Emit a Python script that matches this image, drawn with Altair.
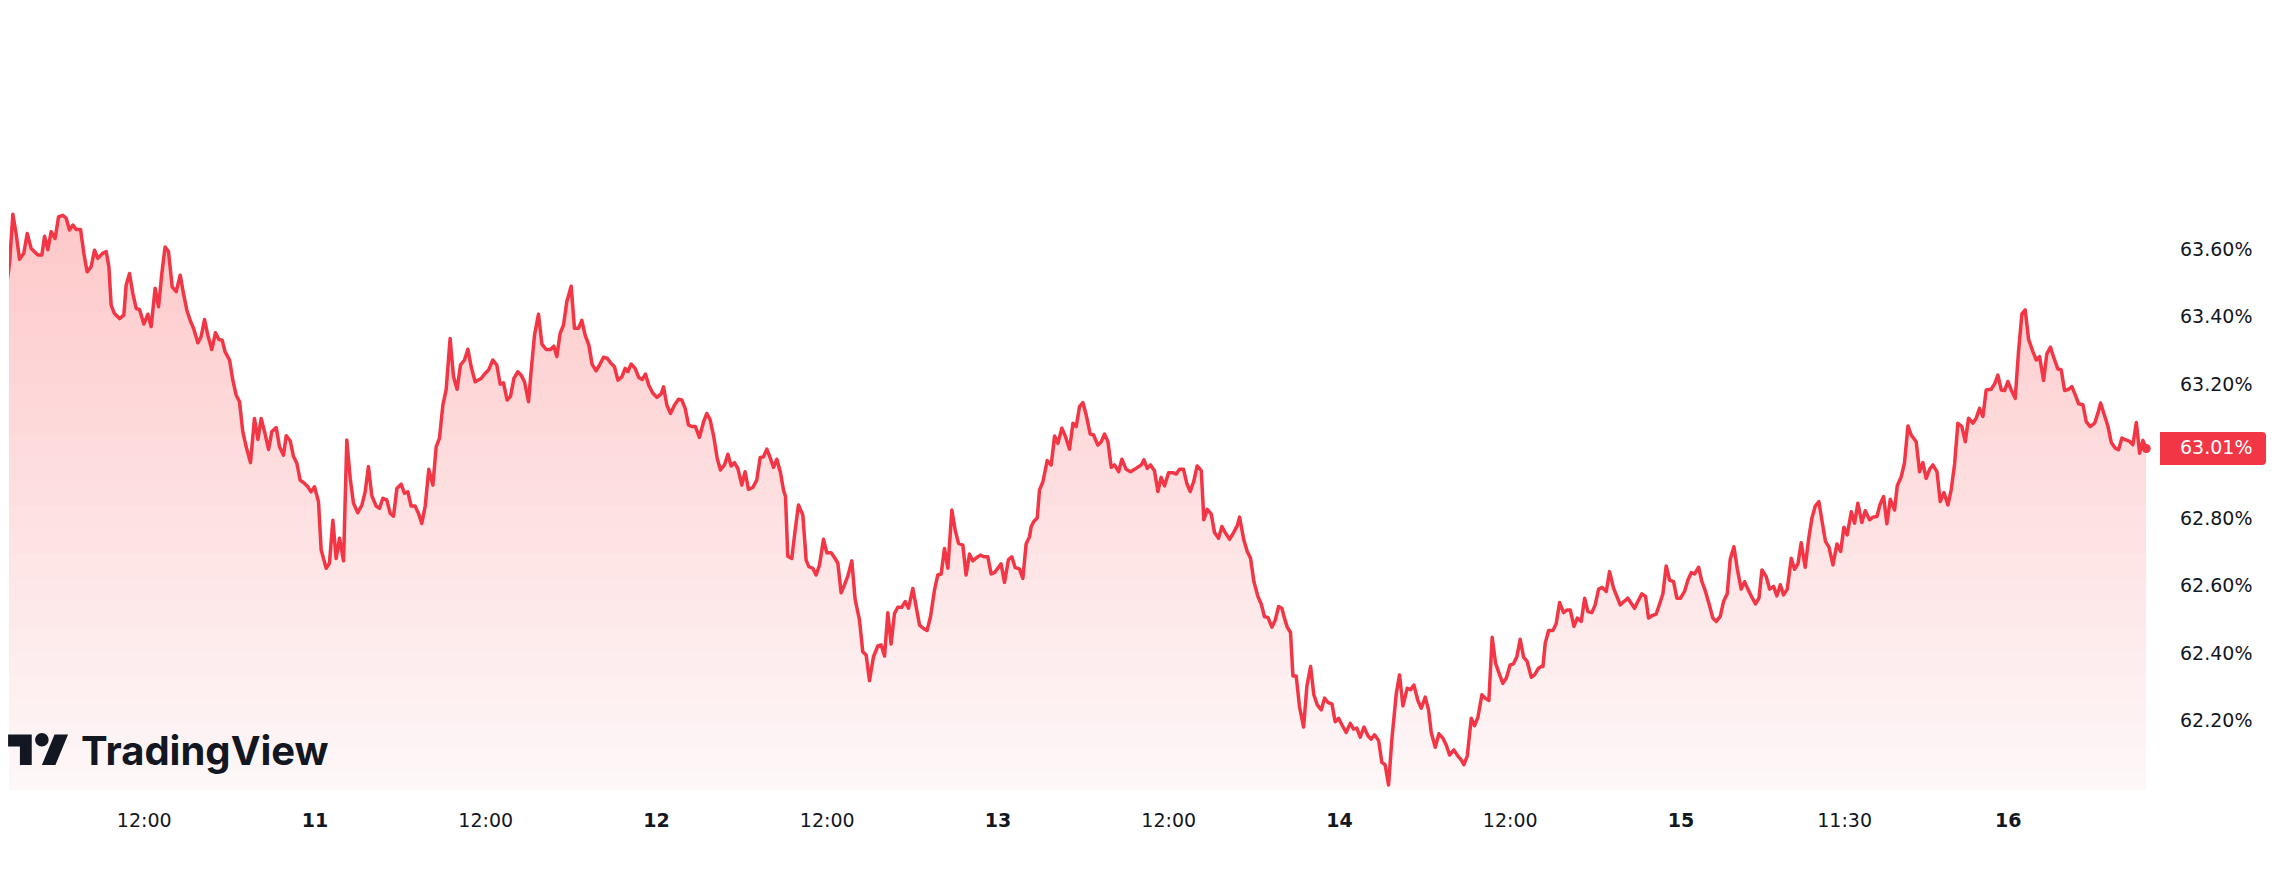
import altair as alt
import numpy as np
import pandas as pd

# ---- data: (hours since day 10 00:00, value in %) ----
seg_day10 = [
    (2.23, 63.466), (2.54, 63.560), (2.77, 63.706), (3.00, 63.649), (3.24, 63.572), (3.54, 63.590),
    (3.78, 63.649), (4.06, 63.604), (4.53, 63.585), (4.81, 63.585), (5.00, 63.641), (5.23, 63.601),
    (5.46, 63.654), (5.74, 63.634), (5.98, 63.698), (6.28, 63.703), (6.52, 63.694), (6.75, 63.659),
    (6.99, 63.674), (7.22, 63.661), (7.53, 63.661), (7.76, 63.590), (7.99, 63.535), (8.27, 63.550),
    (8.51, 63.599), (8.74, 63.575), (9.09, 63.590), (9.33, 63.595), (9.52, 63.550), (9.68, 63.436),
    (9.91, 63.411), (10.27, 63.396), (10.57, 63.406), (10.73, 63.495), (10.97, 63.530), (11.20, 63.471),
    (11.44, 63.426), (11.67, 63.423), (11.98, 63.380), (12.26, 63.409), (12.49, 63.372), (12.77, 63.486),
    (13.01, 63.431), (13.24, 63.530), (13.47, 63.609), (13.71, 63.595), (13.97, 63.490), (14.25, 63.476),
    (14.53, 63.525), (14.76, 63.471), (15.00, 63.421), (15.23, 63.391), (15.47, 63.367), (15.77, 63.324),
    (16.00, 63.342), (16.24, 63.393), (16.47, 63.347), (16.75, 63.304), (17.01, 63.354), (17.25, 63.334),
    (17.48, 63.332), (17.69, 63.297), (18.00, 63.273), (18.23, 63.213), (18.46, 63.169), (18.70, 63.149),
    (18.93, 63.060), (19.17, 63.015), (19.47, 62.968), (19.75, 63.099), (19.99, 63.037), (20.22, 63.099),
    (20.46, 63.060), (20.74, 63.007), (20.97, 63.060), (21.28, 63.072), (21.51, 63.015), (21.79, 62.990),
    (21.98, 63.048), (22.26, 63.033), (22.49, 62.987), (22.73, 62.966), (22.96, 62.916), (23.27, 62.906),
    (23.50, 62.896), (23.73, 62.881), (23.97, 62.896),
]
seg_day11 = [
    (24.25, 62.852), (24.44, 62.708), (24.79, 62.654), (25.02, 62.669), (25.26, 62.797), (25.49, 62.683),
    (25.73, 62.743), (26.01, 62.676), (26.24, 63.035), (26.48, 62.921), (26.71, 62.847), (27.01, 62.819),
    (27.30, 62.842), (27.53, 62.881), (27.76, 62.956), (28.00, 62.869), (28.30, 62.839), (28.54, 62.832),
    (28.77, 62.862), (29.05, 62.857), (29.29, 62.817), (29.52, 62.809), (29.76, 62.891), (30.06, 62.904),
    (30.29, 62.877), (30.53, 62.881), (30.76, 62.839), (31.04, 62.839), (31.28, 62.817), (31.51, 62.787),
    (31.75, 62.839), (32.00, 62.948), (32.29, 62.901), (32.52, 63.015), (32.75, 63.040), (32.99, 63.139),
    (33.22, 63.184), (33.50, 63.337), (33.74, 63.223), (33.99, 63.186), (34.23, 63.258), (34.51, 63.273),
    (34.75, 63.305), (34.98, 63.253), (35.26, 63.208), (35.68, 63.218), (35.96, 63.233), (36.20, 63.243),
    (36.50, 63.273), (36.78, 63.258), (37.02, 63.201), (37.25, 63.205), (37.51, 63.154), (37.74, 63.164),
    (37.98, 63.218), (38.26, 63.238), (38.49, 63.228), (38.73, 63.208), (39.01, 63.149), (39.20, 63.243),
    (39.43, 63.347), (39.71, 63.409), (39.95, 63.320), (40.25, 63.304), (40.55, 63.304), (40.79, 63.314),
    (41.00, 63.283), (41.23, 63.352), (41.47, 63.377), (41.70, 63.446), (42.01, 63.492), (42.24, 63.367),
    (42.52, 63.367), (42.76, 63.391), (42.99, 63.347), (43.25, 63.317), (43.48, 63.260), (43.76, 63.241),
    (44.00, 63.258), (44.28, 63.281), (44.54, 63.278), (44.77, 63.265), (45.05, 63.253), (45.29, 63.213),
    (45.57, 63.223), (45.80, 63.248), (45.99, 63.238), (46.22, 63.261), (46.50, 63.248), (46.76, 63.221),
    (47.00, 63.215), (47.23, 63.231), (47.46, 63.198), (47.75, 63.174),
]
seg_day12 = [
    (48.03, 63.162), (48.33, 63.172), (48.50, 63.193), (48.73, 63.139), (48.99, 63.114), (49.27, 63.139),
    (49.55, 63.156), (49.78, 63.154), (50.02, 63.129), (50.25, 63.080), (50.51, 63.075), (50.74, 63.075),
    (51.02, 63.043), (51.31, 63.089), (51.54, 63.114), (51.77, 63.096), (52.03, 63.045), (52.27, 62.980),
    (52.50, 62.946), (52.78, 62.961), (53.02, 62.993), (53.25, 62.958), (53.48, 62.968), (53.72, 62.951),
    (54.00, 62.901), (54.23, 62.941), (54.47, 62.888), (54.77, 62.894), (55.05, 62.916), (55.29, 62.983),
    (55.52, 62.985), (55.76, 63.008), (55.99, 62.983), (56.23, 62.954), (56.46, 62.978), (56.72, 62.938),
    (56.93, 62.886), (57.07, 62.867), (57.23, 62.690), (57.51, 62.683), (57.75, 62.768), (57.98, 62.842),
    (58.29, 62.812), (58.52, 62.678), (58.71, 62.659), (58.99, 62.654), (59.22, 62.634), (59.46, 62.664),
    (59.74, 62.740), (59.97, 62.700), (60.28, 62.700), (60.51, 62.686), (60.75, 62.669), (60.98, 62.581),
    (61.21, 62.604), (61.45, 62.631), (61.73, 62.676), (61.96, 62.562), (62.27, 62.500), (62.50, 62.406),
    (62.74, 62.396), (62.97, 62.320), (63.25, 62.391), (63.56, 62.423), (63.79, 62.426), (64.03, 62.393),
    (64.26, 62.522), (64.49, 62.429), (64.73, 62.520), (64.96, 62.538), (65.24, 62.538), (65.48, 62.555),
    (65.71, 62.535), (66.02, 62.594), (66.25, 62.540), (66.49, 62.485), (66.77, 62.475), (67.02, 62.469),
    (67.26, 62.510), (67.54, 62.589), (67.77, 62.634), (68.01, 62.637), (68.24, 62.713), (68.48, 62.654),
    (68.76, 62.827), (68.99, 62.768), (69.23, 62.728), (69.53, 62.723), (69.76, 62.634), (70.00, 62.696),
    (70.23, 62.676), (70.51, 62.686), (70.77, 62.693), (71.05, 62.688), (71.29, 62.688), (71.52, 62.637),
    (71.76, 62.641), (71.99, 62.654),
]
seg_day13 = [
    (72.22, 62.667), (72.46, 62.612), (72.74, 62.680), (72.97, 62.688), (73.21, 62.656), (73.51, 62.652),
    (73.75, 62.624), (73.98, 62.726), (74.22, 62.748), (74.33, 62.777), (74.52, 62.793), (74.76, 62.803),
    (74.92, 62.887), (75.16, 62.911), (75.46, 62.974), (75.74, 62.961), (75.98, 63.047), (76.21, 63.025),
    (76.49, 63.070), (76.73, 63.047), (77.03, 63.008), (77.27, 63.085), (77.50, 63.075), (77.73, 63.134),
    (77.97, 63.146), (78.20, 63.110), (78.48, 63.053), (78.72, 63.050), (79.02, 63.020), (79.26, 63.030),
    (79.49, 63.053), (79.73, 63.030), (79.96, 62.954), (80.19, 62.961), (80.48, 62.941), (80.71, 62.978),
    (81.01, 62.948), (81.32, 62.941), (81.60, 62.948), (81.88, 62.956), (82.07, 62.961), (82.26, 62.976),
    (82.49, 62.951), (82.72, 62.961), (83.00, 62.944), (83.24, 62.882), (83.47, 62.924), (83.71, 62.899),
    (83.99, 62.938), (84.29, 62.938), (84.53, 62.934), (84.76, 62.948), (85.04, 62.948), (85.28, 62.905),
    (85.51, 62.882), (85.75, 62.911), (86.00, 62.958), (86.29, 62.944), (86.47, 62.798), (86.71, 62.829),
    (86.99, 62.815), (87.22, 62.760), (87.50, 62.743), (87.74, 62.778), (87.97, 62.760), (88.28, 62.740),
    (88.56, 62.760), (88.81, 62.780), (88.98, 62.806), (89.28, 62.738), (89.52, 62.704), (89.75, 62.684),
    (89.99, 62.614), (90.27, 62.570), (90.50, 62.548), (90.73, 62.510), (90.97, 62.508), (91.25, 62.479),
    (91.49, 62.500), (91.72, 62.540), (91.95, 62.535), (92.14, 62.505), (92.33, 62.479), (92.56, 62.463),
    (92.73, 62.334), (92.96, 62.334), (93.19, 62.243), (93.48, 62.182), (93.71, 62.304), (93.97, 62.362),
    (94.20, 62.278), (94.44, 62.248), (94.72, 62.233), (94.95, 62.268), (95.19, 62.255), (95.47, 62.251),
    (95.70, 62.198), (95.94, 62.208),
]
seg_day14 = [
    (96.17, 62.189), (96.47, 62.166), (96.76, 62.193), (96.99, 62.176), (97.22, 62.179), (97.46, 62.152),
    (97.72, 62.182), (98.00, 62.156), (98.23, 62.146), (98.46, 62.159), (98.75, 62.142), (98.98, 62.077),
    (99.21, 62.070), (99.45, 62.010), (99.68, 62.144), (99.99, 62.281), (100.22, 62.337), (100.46, 62.245),
    (100.76, 62.297), (101.00, 62.293), (101.23, 62.307), (101.51, 62.261), (101.75, 62.238), (102.03, 62.271),
    (102.26, 62.233), (102.45, 62.166), (102.73, 62.122), (102.99, 62.162), (103.27, 62.149), (103.50, 62.129),
    (103.74, 62.099), (104.04, 62.114), (104.32, 62.096), (104.55, 62.085), (104.74, 62.070), (104.98, 62.096),
    (105.26, 62.208), (105.49, 62.186), (105.73, 62.211), (106.01, 62.278), (106.24, 62.268), (106.50, 62.261),
    (106.73, 62.449), (106.97, 62.372), (107.20, 62.344), (107.48, 62.312), (107.72, 62.327), (108.00, 62.367),
    (108.23, 62.370), (108.47, 62.392), (108.70, 62.443), (108.94, 62.390), (109.19, 62.377), (109.48, 62.330),
    (109.71, 62.337), (109.99, 62.357), (110.18, 62.362), (110.30, 62.362), (110.46, 62.431), (110.70, 62.469),
    (111.00, 62.469), (111.23, 62.489), (111.47, 62.552), (111.75, 62.522), (111.98, 62.530), (112.22, 62.530),
    (112.48, 62.481), (112.71, 62.506), (112.99, 62.496), (113.23, 62.565), (113.46, 62.525), (113.74, 62.522),
    (113.97, 62.545), (114.21, 62.592), (114.47, 62.597), (114.75, 62.585), (114.98, 62.644), (115.26, 62.595),
    (115.50, 62.570), (115.73, 62.545), (115.99, 62.555), (116.27, 62.565), (116.50, 62.550), (116.74, 62.535),
    (116.97, 62.555), (117.25, 62.578), (117.51, 62.570), (117.72, 62.506), (117.96, 62.513), (118.26, 62.518),
    (118.50, 62.548), (118.73, 62.578), (118.96, 62.661), (119.20, 62.619), (119.48, 62.614), (119.71, 62.565),
    (119.97, 62.565),
]
seg_day15 = [
    (120.25, 62.585), (120.49, 62.619), (120.72, 62.641), (120.96, 62.637), (121.24, 62.657), (121.47, 62.614),
    (121.70, 62.588), (121.96, 62.550), (122.24, 62.506), (122.48, 62.496), (122.76, 62.511), (122.99, 62.555),
    (123.25, 62.578), (123.46, 62.681), (123.72, 62.718), (123.95, 62.654), (124.23, 62.592), (124.47, 62.614),
    (124.70, 62.592), (124.98, 62.568), (125.24, 62.548), (125.48, 62.565), (125.69, 62.649), (125.99, 62.629),
    (126.23, 62.592), (126.51, 62.600), (126.74, 62.572), (126.98, 62.605), (127.21, 62.575), (127.47, 62.592),
    (127.75, 62.684), (127.98, 62.651), (128.22, 62.667), (128.45, 62.730), (128.73, 62.657), (128.97, 62.740),
    (129.20, 62.803), (129.44, 62.839), (129.69, 62.852), (129.93, 62.790), (130.16, 62.733), (130.40, 62.717),
    (130.68, 62.664), (130.96, 62.726), (131.22, 62.704), (131.45, 62.776), (131.68, 62.753), (131.97, 62.822),
    (132.20, 62.788), (132.43, 62.847), (132.71, 62.790), (132.95, 62.825), (133.25, 62.798), (133.49, 62.806),
    (133.77, 62.808), (134.00, 62.845), (134.24, 62.867), (134.47, 62.786), (134.71, 62.859), (135.01, 62.827),
    (135.20, 62.899), (135.48, 62.926), (135.71, 62.968), (135.95, 63.077), (136.18, 63.050), (136.53, 63.030),
    (136.77, 62.941), (137.00, 62.968), (137.23, 62.921), (137.47, 62.948), (137.70, 62.961), (137.99, 62.941),
    (138.22, 62.852), (138.48, 62.879), (138.76, 62.842), (138.99, 62.887), (139.23, 62.964), (139.46, 63.085),
    (139.74, 63.075), (139.98, 63.030), (140.21, 63.100), (140.51, 63.085), (140.75, 63.100), (140.98, 63.129),
    (141.22, 63.105), (141.45, 63.184), (141.80, 63.186), (142.04, 63.202), (142.27, 63.228), (142.51, 63.184),
    (142.74, 63.182),
]
seg_day16 = [
    (142.97, 63.209), (143.21, 63.184), (143.49, 63.159), (143.72, 63.298), (143.96, 63.410), (144.19, 63.422),
    (144.43, 63.334), (144.73, 63.298), (144.97, 63.273), (145.20, 63.283), (145.48, 63.212), (145.71, 63.291),
    (145.97, 63.311), (146.19, 63.281), (146.49, 63.246), (146.72, 63.244), (146.96, 63.182), (147.24, 63.186),
    (147.47, 63.194), (147.71, 63.169), (147.94, 63.143), (148.25, 63.140), (148.48, 63.090), (148.76, 63.075),
    (149.07, 63.085), (149.30, 63.115), (149.49, 63.145), (149.77, 63.107), (150.00, 63.077), (150.24, 63.028),
    (150.52, 63.011), (150.75, 63.006), (150.99, 63.041), (151.22, 63.036), (151.53, 63.031), (151.76, 63.021),
    (152.00, 63.087), (152.23, 62.996), (152.46, 63.034), (152.70, 63.010),
]

# axis ticks and labels
day_tick_hours = [24, 48, 72, 96, 120, 143]
day_tick_labels = ["11", "12", "13", "14", "15", "16"]
time_tick_hours = [12, 36, 60, 84, 108, 131.5]
time_tick_labels = ["12:00", "12:00", "12:00", "12:00", "12:00", "11:30"]
y_tick_values = [62.2, 62.4, 62.6, 62.8, 63.2, 63.4, 63.6]
brand_name = ["TradingView"]

# ---- tables ----
points = seg_day10 + seg_day11 + seg_day12 + seg_day13 + seg_day14 + seg_day15 + seg_day16
df = pd.DataFrame(points, columns=["hour", "value"])
last = df.iloc[[-1]].copy()
last["label"] = last["value"].map(lambda v: f"{v:.2f}%")
day_df = pd.DataFrame({"hour": day_tick_hours, "label": day_tick_labels})
time_df = pd.DataFrame({"hour": time_tick_hours, "label": time_tick_labels})
ytick_df = pd.DataFrame({"value": y_tick_values})
ytick_df["label"] = ytick_df["value"].map(lambda v: f"{v:.2f}%")
brand_df = pd.DataFrame({"brand": brand_name})

RED = "#F23645"
INK = "#131722"
FONT = "DejaVu Sans"
W, H = 2138, 782
Y_MIN, Y_MAX = 61.995, 64.319

x_scale = alt.Scale(domain=[2.5, 152.75], nice=False, zero=False)
y_scale = alt.Scale(domain=[Y_MIN, Y_MAX], nice=False, zero=False)
X = alt.X("hour:Q", scale=x_scale, axis=None)
Y = alt.Y("value:Q", scale=y_scale, axis=None)

base = alt.Chart(df).encode(x=X, y=Y)

# vertical fade of the fill: a faint base area plus stacked translucent
# bands that start at successively higher levels (denser near the top)
BASE_ALPHA = 0.04
N_BANDS = 24
BAND_ALPHA = 0.0108
fill_layers = [base.mark_area(clip=True, color=RED, opacity=BASE_ALPHA, strokeWidth=0)]
for lvl in np.linspace(62.05, 63.70, N_BANDS):
    fill_layers.append(
        alt.Chart(df)
        .transform_calculate(lo=f"min(datum.value, {lvl:.4f})")
        .mark_area(clip=True, color=RED, opacity=BAND_ALPHA, strokeWidth=0)
        .encode(x=X, y=Y, y2=alt.Y2("lo:Q"))
    )

line = base.mark_line(clip=True, color=RED, strokeWidth=3.5, strokeJoin="round")

dot = alt.Chart(last).mark_circle(color=RED, size=80, opacity=1).encode(x=X, y=Y)

BOX_PATH = "M-1,-0.311 H0.925 Q1,-0.311 1,-0.236 V0.236 Q1,0.311 0.925,0.311 H-1 Z"
box = alt.Chart(last).mark_point(
    shape=BOX_PATH, filled=True, size=11236, color=RED, opacity=1, strokeWidth=0
).encode(x=alt.value(2204), y=Y)
price = alt.Chart(last).mark_text(
    align="left", baseline="middle", font=FONT, fontSize=19, color="white"
).encode(x=alt.value(2171), y=Y, text="label:N")

# tick labels (y on the right, x below)
ylabels = alt.Chart(ytick_df).mark_text(
    align="left", baseline="middle", font=FONT, fontSize=19, color=INK
).encode(x=alt.value(2171), y=Y, text="label:N")
day_labels = alt.Chart(day_df).mark_text(
    align="center", baseline="middle", font=FONT, fontSize=19, fontWeight="bold", color=INK
).encode(x=X, y=alt.value(H + 31), text="label:N")
time_labels = alt.Chart(time_df).mark_text(
    align="center", baseline="middle", font=FONT, fontSize=19, color=INK
).encode(x=X, y=alt.value(H + 31), text="label:N")

LOGO_PATH = (
    "M-0.2222,0.4444 H-0.6111 V-0.1667 H-1 V-0.5556 H-0.2222 Z "
    "M0.5556,0.4444 H0.1111 L0.5278,-0.5556 H0.9722 Z "
    "M0.3333,-0.3889 A0.2222,0.2222 0 1,1 -0.1111,-0.3889 A0.2222,0.2222 0 1,1 0.3333,-0.3889 Z"
)
logo = alt.Chart(brand_df).mark_point(
    shape=LOGO_PATH, filled=True, size=3700, color=INK, opacity=1, strokeWidth=0
).encode(x=alt.value(29.5), y=alt.value(743.5))
brand = alt.Chart(brand_df).mark_text(
    align="left", baseline="alphabetic", font="Inter", fontWeight="bold", fontSize=40, color=INK
).encode(x=alt.value(72), y=alt.value(757), text="brand:N")

chart = (
    alt.layer(*fill_layers, line, dot, box, price, ylabels, day_labels, time_labels, logo, brand)
    .properties(width=W, height=H, padding=0, background="white")
    .configure_view(strokeWidth=0)
)

chart.save("out.html", embed_options={"renderer": "svg", "actions": False})
